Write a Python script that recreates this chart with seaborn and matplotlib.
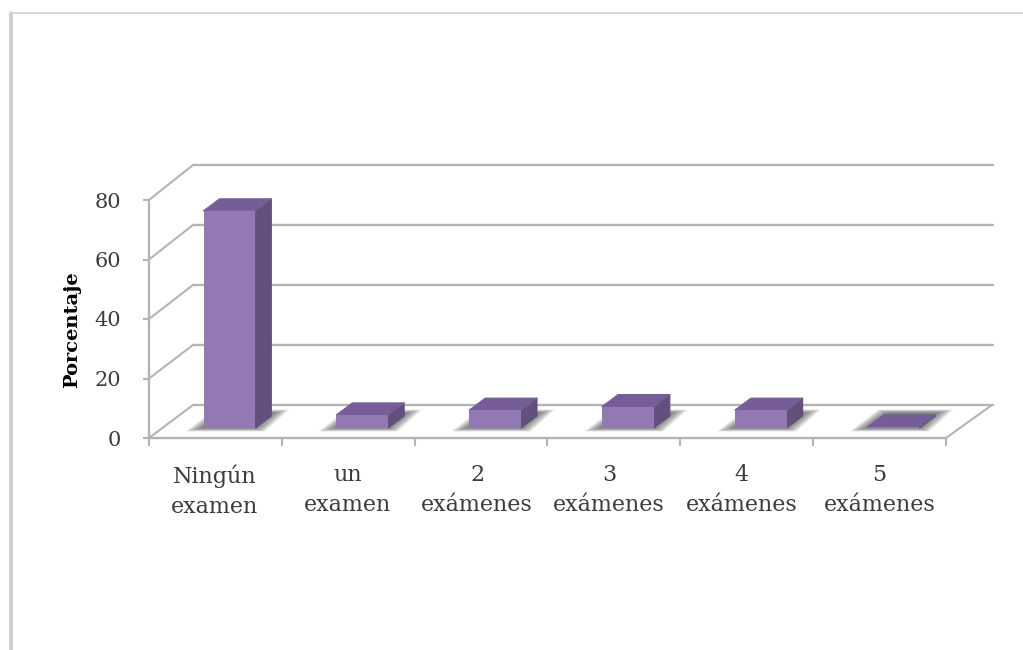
import matplotlib
matplotlib.use("Agg")
import matplotlib.pyplot as plt
import seaborn as sns
import pandas as pd
from matplotlib.patches import Polygon
from matplotlib.lines import Line2D
from matplotlib.transforms import ScaledTranslation

categories = ["Ningún\nexamen", "un\nexamen", "2\nexámenes", "3\nexámenes", "4\nexámenes", "5\nexámenes"]
values = [73, 4.4, 6, 7.2, 6, 0.4]
y_ticks = [0, 20, 40, 60, 80]
y_label = "Porcentaje"
label_shift_px = [-1, -1, -4, -5, -5, 0]

GRID = "#b4b4b4"
FRONT = "#9279b3"
SIDE = "#64507c"
TOP = "#755e98"
TXT = "#3c3c3c"

W, H, DPI = 1023, 650, 100
L, R, B, T = 149, 946, 438, 200
PX = (R - L) / 6
PY = (B - T) / 80

def dx(p):
    return p / PX

def dy(p):
    return p / PY

sns.set_theme(style="white")
plt.rcParams["font.family"] = ["DejaVu Serif"]

fig = plt.figure(figsize=(W / DPI, H / DPI), dpi=DPI, facecolor="white")
ax = fig.add_axes([L / W, 1 - B / H, (R - L) / W, (B - T) / H])
ax.patch.set_alpha(0)

df = pd.DataFrame({"cat": categories, "val": values})
sns.barplot(data=df, x="cat", y="val", color=FRONT, saturation=1, width=0.39, ax=ax, zorder=5, linewidth=0)
ax.set_xlim(-0.5, 5.5)
ax.set_ylim(0, 80)
ax.set_xlabel("")

# back wall, floor and side gridlines
WX = dx(44)
for v in y_ticks:
    wy = dy(33 + v / 40)
    ax.add_line(Line2D([-0.5 + WX, 5.5 + dx(47)], [v + wy, v + wy], color=GRID, lw=1.7, clip_on=False, zorder=1))
    ax.add_line(Line2D([-0.5, -0.5 + WX], [v, v + wy], color=GRID, lw=1.5, clip_on=False, zorder=1))
ax.add_line(Line2D([5.5, 5.5 + dx(46)], [0, dy(33)], color=GRID, lw=1.5, clip_on=False, zorder=1))

# bars: shift into the floor and add depth faces plus soft shadows
BX, BY = dx(14), dy(10)
DX, DY = dx(16), dy(12)
for p, v in zip(ax.patches, values):
    p.set_x(p.get_x() + BX)
    p.set_y(BY)
    x0, x1 = p.get_x(), p.get_x() + p.get_width()
    y0, y1 = BY, BY + v
    n = 12
    for k in range(n):
        g = 16 * (1 - k / (n - 1))
        sh = Polygon([(x0 - dx(g + 2), y0 - dy(g * .22)),
                      (x1 + dx(g * .6), y0 - dy(g * .22)),
                      (x1 + dx(18 + g), y0 + dy(15 + g * .22)),
                      (x0 + dx(20 - g * .6), y0 + dy(15 + g * .22))],
                     closed=True, fc="#4a4a4a", ec="none", alpha=0.085, zorder=2, clip_on=False)
        ax.add_patch(sh)
    ax.add_patch(Polygon([(x1, y0), (x1 + DX, y0 + DY), (x1 + DX, y1 + DY), (x1, y1)],
                         closed=True, fc=SIDE, ec=SIDE, lw=0.8, joinstyle="round", zorder=4, clip_on=False))
    ax.add_patch(Polygon([(x0, y1), (x1, y1), (x1 + DX, y1 + DY), (x0 + DX, y1 + DY)],
                         closed=True, fc=TOP, ec=TOP, lw=0.8, joinstyle="round", zorder=4, clip_on=False))

for side in ["top", "right"]:
    ax.spines[side].set_visible(False)
for side in ["left", "bottom"]:
    ax.spines[side].set_color(GRID)
    ax.spines[side].set_linewidth(1.7)

ax.set_yticks(y_ticks)
ax.set_yticklabels([str(t) for t in y_ticks], fontsize=15, color=TXT)
ax.set_xticks(range(6))
ax.set_xticklabels(categories, fontsize=16, color=TXT, linespacing=1.45)
ax.set_xticks([i - 0.5 for i in range(7)], minor=True)
ax.tick_params(axis="x", which="major", length=0, pad=19)
ax.tick_params(axis="x", which="minor", length=6, width=1.5, color=GRID, bottom=True)
ax.tick_params(axis="y", which="major", length=4, width=1.5, color=GRID, left=True, pad=16)
for lab, s in zip(ax.get_xticklabels(), label_shift_px):
    lab.set_transform(lab.get_transform() + ScaledTranslation(s / DPI, 0, fig.dpi_scale_trans))
ax.set_ylabel(y_label, fontsize=14, fontweight="bold", color="black")
ax.yaxis.set_label_coords((81 - L) / (R - L), (B - 330) / (B - T))

# page border
fig.add_artist(Line2D([11 / W, 11 / W], [0, 1 - 13 / H], color="#cdcdcd", lw=2.6))
fig.add_artist(Line2D([10 / W, 1], [1 - 13 / H, 1 - 13 / H], color="#d6d6d6", lw=1.4))

fig.savefig("out.png", dpi=DPI, facecolor="white")
